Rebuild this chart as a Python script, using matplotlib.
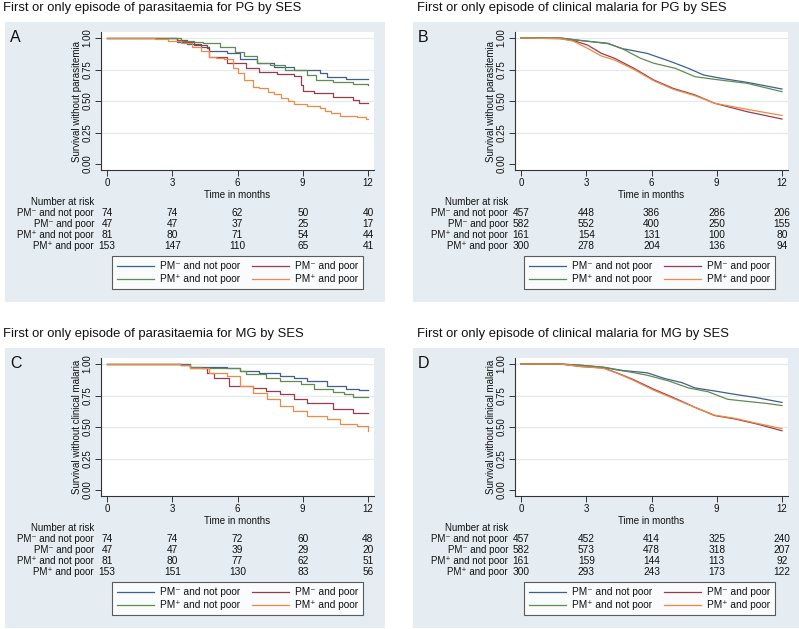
import matplotlib
matplotlib.use("Agg")
import matplotlib.pyplot as plt
import matplotlib.transforms as mtransforms
from matplotlib.patches import Rectangle
from matplotlib.lines import Line2D

plt.rcParams['font.family'] = ['Liberation Sans', 'DejaVu Sans']

# ---------------- data ----------------
series_labels = ["PM\u207b and not poor", "PM\u207b and poor", "PM\u207a and not poor", "PM\u207a and poor"]
series_colors = ["#3f5f8c", "#9a3b4c", "#5f8b4f", "#ee8a45"]
risk_times = [0, 3, 6, 9, 12]

titles = ["First or only episode of parasitaemia for PG by SES",
          "First or only episode of clinical malaria for PG by SES",
          "First or only episode of parasitaemia for MG by SES",
          "First or only episode of clinical malaria for MG by SES"]
panel_letters = ["A", "B", "C", "D"]
ylabels = ["Survival without parasitemia", "Survival without parasitemia",
           "Survival without clinical malaria", "Survival without clinical malaria"]

# Panel A (PG, parasitaemia)
A_t_neg_notpoor = [0, 3.2, 3.7, 4.3, 4.7, 5.5, 6.1, 6.9, 7.7, 8.6, 9.8, 10.1, 11.0, 12.0]
A_s_neg_notpoor = [1.0, 0.97, 0.95, 0.93, 0.90, 0.877, 0.836, 0.80, 0.772, 0.746, 0.725, 0.693, 0.672, 0.672]
A_t_neg_poor = [0, 3.2, 3.7, 4.0, 4.6, 4.7, 5.5, 6.4, 7.0, 7.8, 8.6, 8.9, 9.0, 9.5, 10.4, 11.3, 11.6, 12.0]
A_s_neg_poor = [1.0, 0.985, 0.97, 0.944, 0.918, 0.852, 0.80, 0.76, 0.733, 0.714, 0.698, 0.627, 0.582, 0.566, 0.535, 0.508, 0.482, 0.482]
A_t_pos_notpoor = [0, 3.4, 4.0, 4.4, 5.2, 5.9, 6.3, 6.9, 7.5, 8.2, 9.2, 9.6, 10.4, 11.3, 12.0]
A_s_pos_notpoor = [1.0, 0.98, 0.97, 0.957, 0.93, 0.89, 0.857, 0.804, 0.786, 0.75, 0.706, 0.667, 0.653, 0.635, 0.63]
A_t_pos_poor = [0, 2.2, 2.8, 3.4, 3.9, 4.3, 4.7, 5.0, 5.4, 5.8, 6.0, 6.3, 6.7, 7.0, 7.4, 7.7, 8.0, 8.3, 8.6, 9.2, 9.8, 10.0, 10.3, 10.7, 11.5, 11.9, 12.0]
A_s_pos_poor = [1.0, 0.99, 0.975, 0.958, 0.93, 0.90, 0.852, 0.84, 0.83, 0.76, 0.72, 0.667, 0.614, 0.60, 0.574, 0.555, 0.52, 0.50, 0.476, 0.46, 0.441, 0.42, 0.403, 0.382, 0.37, 0.36, 0.355]

# Panel B (PG, clinical malaria)
B_t_neg_notpoor = [0, 1.8, 2.75, 4.0, 4.6, 5.8, 6.9, 7.7, 8.4, 9.2, 10.4, 12.0]
B_s_neg_notpoor = [1.0, 1.0, 0.98, 0.958, 0.918, 0.878, 0.812, 0.759, 0.706, 0.68, 0.648, 0.595]
B_t_neg_poor = [0, 1.8, 2.4, 3.06, 3.7, 4.3, 5.2, 6.1, 7.0, 8.0, 8.9, 10.4, 12.0]
B_s_neg_poor = [1.0, 0.995, 0.98, 0.944, 0.878, 0.839, 0.759, 0.667, 0.60, 0.548, 0.482, 0.415, 0.357]
B_t_pos_notpoor = [0, 1.8, 2.75, 4.0, 4.6, 5.5, 6.1, 7.1, 8.0, 8.9, 10.4, 12.0]
B_s_pos_notpoor = [1.0, 1.0, 0.98, 0.955, 0.92, 0.839, 0.80, 0.759, 0.693, 0.672, 0.64, 0.574]
B_t_pos_poor = [0, 1.8, 2.4, 3.06, 3.7, 4.3, 5.2, 6.1, 7.0, 8.0, 8.9, 10.4, 12.0]
B_s_pos_poor = [1.0, 0.995, 0.975, 0.918, 0.857, 0.825, 0.75, 0.661, 0.593, 0.542, 0.482, 0.434, 0.385]

# Panel C (MG, parasitaemia)
C_t_neg_notpoor = [0, 3.8, 5.5, 6.1, 7.0, 7.95, 8.6, 9.2, 10.1, 11.0, 11.6, 12.0]
C_s_neg_notpoor = [1.0, 0.98, 0.969, 0.948, 0.93, 0.904, 0.885, 0.865, 0.825, 0.805, 0.79, 0.79]
C_t_neg_poor = [0, 3.4, 3.8, 4.6, 4.9, 5.6, 6.7, 7.3, 7.95, 8.6, 9.2, 10.4, 11.3, 12.0]
C_s_neg_poor = [1.0, 0.99, 0.969, 0.93, 0.885, 0.825, 0.81, 0.786, 0.76, 0.72, 0.687, 0.643, 0.609, 0.609]
C_t_pos_notpoor = [0, 3.4, 3.8, 4.3, 6.1, 6.4, 7.3, 7.95, 8.9, 9.5, 10.4, 10.9, 11.3, 12.0]
C_s_pos_notpoor = [1.0, 0.995, 0.98, 0.969, 0.943, 0.922, 0.885, 0.865, 0.844, 0.80, 0.78, 0.76, 0.742, 0.742]
C_t_pos_poor = [0, 3.36, 3.8, 4.7, 5.5, 6.1, 6.7, 7.34, 7.95, 8.57, 9.2, 10.1, 10.7, 11.5, 12.0]
C_s_pos_poor = [1.0, 0.99, 0.97, 0.93, 0.904, 0.825, 0.773, 0.72, 0.67, 0.63, 0.591, 0.565, 0.526, 0.505, 0.47]

# Panel D (MG, clinical malaria)
D_t_neg_notpoor = [0, 1.8, 2.75, 3.8, 4.7, 5.8, 6.6, 7.4, 8.0, 8.9, 9.8, 10.8, 12.0]
D_s_neg_notpoor = [1.0, 1.0, 0.99, 0.974, 0.948, 0.93, 0.885, 0.852, 0.81, 0.786, 0.76, 0.734, 0.695]
D_t_neg_poor = [0, 1.8, 2.75, 3.8, 4.4, 5.15, 6.1, 7.0, 8.0, 8.9, 9.8, 10.8, 12.0]
D_s_neg_poor = [1.0, 1.0, 0.98, 0.969, 0.93, 0.878, 0.80, 0.734, 0.656, 0.591, 0.565, 0.526, 0.47]
D_t_pos_notpoor = [0, 1.8, 2.75, 3.8, 4.5, 5.0, 5.8, 6.8, 7.7, 8.6, 9.5, 10.4, 11.3, 12.0]
D_s_pos_notpoor = [1.0, 1.0, 0.99, 0.974, 0.95, 0.937, 0.911, 0.865, 0.81, 0.78, 0.72, 0.703, 0.687, 0.67]
D_t_pos_poor = [0, 1.8, 2.75, 3.8, 4.4, 5.15, 6.1, 7.0, 8.0, 8.9, 9.8, 10.8, 12.0]
D_s_pos_poor = [1.0, 1.0, 0.98, 0.965, 0.928, 0.872, 0.792, 0.727, 0.656, 0.594, 0.57, 0.531, 0.487]

# Numbers at risk
A_risk = [[74, 74, 62, 50, 40], [47, 47, 37, 25, 17], [81, 80, 71, 54, 44], [153, 147, 110, 65, 41]]
B_risk = [[457, 448, 386, 286, 206], [582, 552, 400, 250, 155], [161, 154, 131, 100, 80], [300, 278, 204, 136, 94]]
C_risk = [[74, 74, 72, 60, 48], [47, 47, 39, 29, 20], [81, 80, 77, 62, 51], [153, 151, 130, 83, 56]]
D_risk = [[457, 452, 414, 325, 240], [582, 573, 478, 318, 207], [161, 159, 144, 113, 92], [300, 293, 243, 173, 122]]

panel_curves = [
    [(A_t_neg_notpoor, A_s_neg_notpoor), (A_t_neg_poor, A_s_neg_poor), (A_t_pos_notpoor, A_s_pos_notpoor), (A_t_pos_poor, A_s_pos_poor)],
    [(B_t_neg_notpoor, B_s_neg_notpoor), (B_t_neg_poor, B_s_neg_poor), (B_t_pos_notpoor, B_s_pos_notpoor), (B_t_pos_poor, B_s_pos_poor)],
    [(C_t_neg_notpoor, C_s_neg_notpoor), (C_t_neg_poor, C_s_neg_poor), (C_t_pos_notpoor, C_s_pos_notpoor), (C_t_pos_poor, C_s_pos_poor)],
    [(D_t_neg_notpoor, D_s_neg_notpoor), (D_t_neg_poor, D_s_neg_poor), (D_t_pos_notpoor, D_s_pos_notpoor), (D_t_pos_poor, D_s_pos_poor)],
]
panel_risks = [A_risk, B_risk, C_risk, D_risk]
panel_steps = [True, False, True, False]

# ---------------- layout ----------------
W, H = 799, 629
fig = plt.figure(figsize=(W / 100, H / 100), dpi=100)
fig.patch.set_facecolor("white")

def fx(x):
    return x / W

def fy(y):
    return 1 - y / H

BG = "#e6edf2"
GRID = "#e3e9ee"
TXT = "#111111"

# (dx, dy, bg_left, bg_right)
offsets = [(0, 0, 5, 385), (414, 0, 413, 799), (0, 326, 5, 385), (414, 326, 413, 799)]
legend_order = [0, 2, 1, 3]  # column-major fill -> rows: (0,1), (2,3)

for i in range(4):
    dx, dy, bl, br = offsets[i]
    # panel background
    fig.patches.append(Rectangle((fx(bl), fy(302 + dy)), (br - bl) / W, 280 / H,
                                 transform=fig.transFigure, facecolor=BG, edgecolor="none", zorder=-5))
    fig.text(fx(3 + dx), fy(8 + dy), titles[i], fontsize=9.4, ha="left", va="center", color=TXT)
    fig.text(fx(bl + 5), fy(37 + dy), panel_letters[i], fontsize=11.5, ha="left", va="center", color=TXT)

    ax = fig.add_axes([fx(101 + dx), fy(170 + dy), (374 - 101) / W, 138 / H])
    ax.set_zorder(1)
    ax.set_facecolor("white")
    ax.set_xlim(-6 / 21.75, 12 + 6 / 21.75)
    ax.set_ylim(-6 / 126, 132 / 126)
    for sp in ["top", "right"]:
        ax.spines[sp].set_visible(False)
    for sp in ["left", "bottom"]:
        ax.spines[sp].set_color("#333333")
        ax.spines[sp].set_linewidth(0.8)
    ax.set_xticks(risk_times)
    ax.set_yticks([0, 0.25, 0.5, 0.75, 1.0])
    ax.set_yticklabels(["0.00", "0.25", "0.50", "0.75", "1.00"])
    ax.tick_params(axis="both", labelsize=7, length=4, width=0.7, color="#333333", labelcolor=TXT, pad=2)
    ax.tick_params(axis="y", labelrotation=90)
    for lab in ax.get_yticklabels():
        lab.set_va("center")
    for g in [0.25, 0.5, 0.75, 1.0]:
        ax.axhline(g, color=GRID, lw=0.9, zorder=0)
    ax.set_xlabel("Time in months", fontsize=7, labelpad=1, color=TXT)
    ax.set_ylabel(ylabels[i], fontsize=7, labelpad=0.5, color=TXT)

    for j, (t, s) in enumerate(panel_curves[i]):
        ax.plot(t, s, color=series_colors[j], lw=0.9,
                drawstyle="steps-post" if panel_steps[i] else "default", zorder=2 + j)

    # number at risk table
    tr = mtransforms.blended_transform_factory(ax.transData, fig.transFigure)
    fig.text(fx(94 + dx), fy(202 + dy), "Number at risk", fontsize=7, ha="right", va="center", color=TXT)
    for j in range(4):
        yrow = fy(213 + 11 * j + dy)
        fig.text(fx(94 + dx), yrow, series_labels[j], fontsize=7, ha="right", va="center", color=TXT)
        for k, tt in enumerate(risk_times):
            ax.text(tt, yrow, str(panel_risks[i][j][k]), transform=tr, fontsize=7.3,
                    ha="center", va="center", color=TXT, clip_on=False)

    # legend
    handles = [Line2D([0], [0], color=series_colors[j], lw=0.9) for j in legend_order]
    labels = [series_labels[j] for j in legend_order]
    lx0 = 112 + dx - (2 if dx else 0)
    leg = fig.legend(handles, labels, ncol=2, loc="upper left",
                     bbox_to_anchor=(fx(lx0), fy(288 + dy), 251 / W, 32 / H),
                     mode="expand", fontsize=7.3, frameon=True, fancybox=False,
                     handlelength=3.6, handletextpad=0.6, borderaxespad=0,
                     labelspacing=0.3, borderpad=0.5, columnspacing=1.5)
    leg.get_frame().set_edgecolor("#333333")
    leg.get_frame().set_linewidth(0.8)
    for tx in leg.get_texts():
        tx.set_color(TXT)

fig.savefig("out.png", dpi=100, facecolor="white")
